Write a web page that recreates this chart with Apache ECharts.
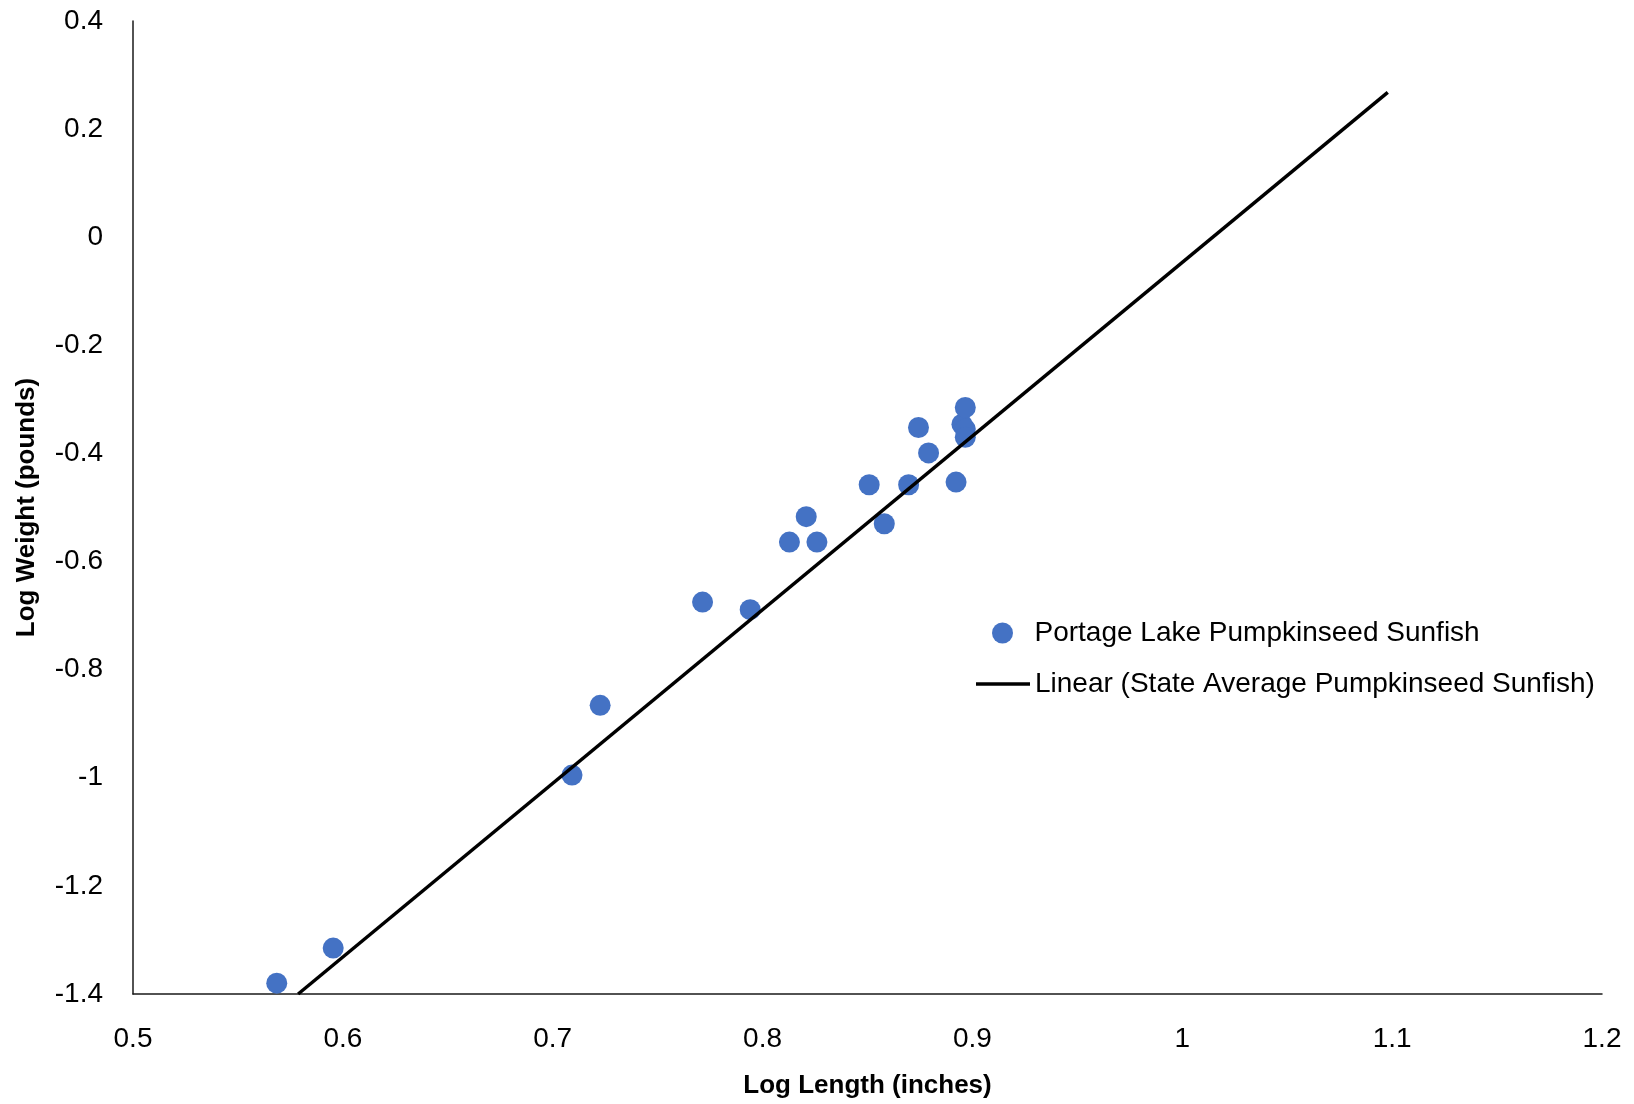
<!DOCTYPE html>
<html>
<head>
<meta charset="utf-8">
<script src="https://cdn.jsdelivr.net/npm/echarts@6/dist/echarts.min.js"></script>
<style>html,body{margin:0;padding:0;background:#fff;}#c{width:1634px;height:1104px;}</style>
</head>
<body>
<div id="c"></div>
<script>
// Portage Lake Pumpkinseed Sunfish (log length, log weight)
const logLength = [0.5685, 0.5954, 0.7092, 0.7226, 0.7714, 0.7941, 0.8128, 0.8208, 0.8259, 0.8508, 0.8580, 0.8696, 0.8743, 0.8791, 0.8922, 0.8950, 0.8966, 0.8966, 0.8966];
const logWeight = [-1.380, -1.315, -0.995, -0.866, -0.675, -0.689, -0.564, -0.517, -0.564, -0.458, -0.530, -0.458, -0.352, -0.399, -0.453, -0.346, -0.315, -0.355, -0.370];
// State average trend line endpoints
const trendX = [0.5787, 1.0979];
const trendY = [-1.400, 0.268];
const seriesNames = ['Portage Lake Pumpkinseed Sunfish', 'Linear (State Average Pumpkinseed Sunfish)'];
const xTicks = {min: 0.5, max: 1.2, step: 0.1};
const yTicks = {min: -1.4, max: 0.4, step: 0.2};

const font = 'Liberation Sans';
const chart = echarts.init(document.getElementById('c'), null, {renderer: 'canvas'});
chart.setOption({
  animation: false,
  backgroundColor: '#fff',
  textStyle: {fontFamily: font, color: '#000'},
  grid: {left: 133, right: 32, top: 21, bottom: 108, containLabel: false},
  legend: [
    {
      left: 987,
      top: 614,
      itemWidth: 54,
      itemHeight: 21,
      textStyle: {fontFamily: font, fontSize: 28, color: '#000'},
      data: [{name: seriesNames[0], icon: 'circle'}]
    },
    {
      left: 971,
      top: 665,
      itemWidth: 54,
      itemHeight: 3.5,
      textStyle: {fontFamily: font, fontSize: 28, color: '#000'},
      itemStyle: {color: '#000', borderWidth: 0},
      data: [{name: seriesNames[1], icon: 'rect'}]
    }
  ],
  xAxis: {
    type: 'value',
    min: xTicks.min, max: xTicks.max, interval: xTicks.step,
    name: 'Log Length (inches)',
    nameLocation: 'middle',
    nameGap: 79,
    nameTextStyle: {fontFamily: font, fontSize: 26, fontWeight: 'bold', color: '#000'},
    axisLine: {show: true, onZero: false, lineStyle: {color: '#1a1a1a', width: 1.5}},
    axisTick: {show: false},
    splitLine: {show: false},
    axisLabel: {fontFamily: font, fontSize: 28, color: '#000', margin: 31,
      formatter: v => String(Math.round(v * 10) / 10)}
  },
  yAxis: {
    type: 'value',
    min: yTicks.min, max: yTicks.max, interval: yTicks.step,
    name: 'Log Weight (pounds)',
    nameLocation: 'middle',
    nameGap: 93,
    nameTextStyle: {fontFamily: font, fontSize: 26, fontWeight: 'bold', color: '#000'},
    axisLine: {show: true, onZero: false, lineStyle: {color: '#1a1a1a', width: 1.5}},
    axisTick: {show: false},
    splitLine: {show: false},
    axisLabel: {fontFamily: font, fontSize: 28, color: '#000', margin: 30,
      formatter: v => String(Math.round(v * 10) / 10)}
  },
  series: [
    {
      name: seriesNames[0],
      type: 'scatter',
      symbol: 'circle',
      symbolSize: 21,
      itemStyle: {color: '#4472C4', opacity: 1},
      data: logLength.map((x, i) => [x, logWeight[i]]),
      z: 3
    },
    {
      name: seriesNames[1],
      type: 'line',
      symbol: 'none',
      showSymbol: false,
      lineStyle: {color: '#000', width: 3.5},
      itemStyle: {color: '#000'},
      data: trendX.map((x, i) => [x, trendY[i]]),
      z: 4
    }
  ]
});
</script>
</body>
</html>
